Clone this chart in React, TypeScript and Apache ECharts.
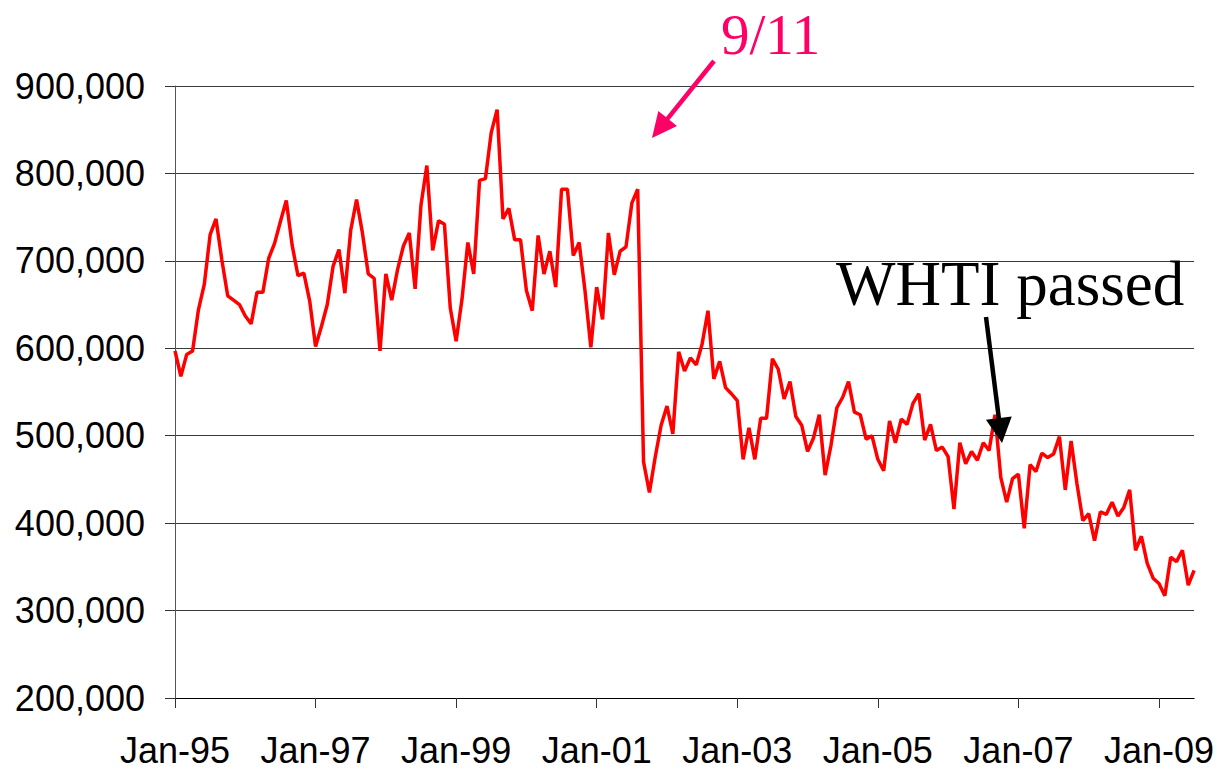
import React, { useEffect, useRef } from "react";
import * as echarts from "echarts";

// Monthly values (Jan 1995 – Jul 2009)
const v1995 = [597000, 568000, 593000, 597000, 644000, 673000, 730000, 748000, 701000, 660000, 655000, 650000];
const v1996 = [637000, 628000, 664000, 664000, 703000, 720000, 745000, 769000, 718000, 683000, 686000, 654000];
const v1997 = [602000, 625000, 650000, 694000, 713000, 663000, 735000, 770000, 732000, 685000, 680000, 597000];
const v1998 = [685000, 655000, 690000, 717000, 732000, 668000, 764000, 809000, 712000, 746000, 742000, 646000];
const v1999 = [608000, 656000, 721000, 685000, 792000, 794000, 847000, 873000, 748000, 760000, 724000, 724000];
const v2000 = [666000, 643000, 729000, 685000, 711000, 670000, 782000, 782000, 706000, 721000, 666000, 601000];
const v2001 = [670000, 633000, 732000, 684000, 711000, 716000, 766000, 782000, 470000, 435000, 476000, 512000];
const v2002 = [534000, 502000, 596000, 574000, 589000, 581000, 605000, 643000, 565000, 585000, 555000, 548000];
const v2003 = [540000, 473000, 509000, 473000, 520000, 520000, 588000, 576000, 542000, 562000, 522000, 512000];
const v2004 = [482000, 497000, 524000, 455000, 489000, 532000, 544000, 562000, 527000, 524000, 496000, 500000];
const v2005 = [473000, 460000, 517000, 492000, 519000, 513000, 537000, 548000, 495000, 513000, 483000, 487000];
const v2006 = [476000, 416000, 492000, 468000, 482000, 472000, 492000, 483000, 524000, 452000, 424000, 451000];
const v2007 = [456000, 394000, 467000, 459000, 480000, 475000, 479000, 499000, 438000, 494000, 445000, 403000];
const v2008 = [411000, 380000, 413000, 410000, 424000, 408000, 418000, 438000, 369000, 385000, 354000, 337000];
const v2009 = [331000, 317000, 361000, 356000, 369000, 329000, 346000];

const monthNames = ["Jan", "Feb", "Mar", "Apr", "May", "Jun", "Jul", "Aug", "Sep", "Oct", "Nov", "Dec"];
const years = ["95", "96", "97", "98", "99", "00", "01", "02", "03", "04", "05", "06", "07", "08", "09"];

const yMin = 200000;
const yMax = 900000;
const yStep = 100000;

const values = [
  ...v1995, ...v1996, ...v1997, ...v1998, ...v1999, ...v2000, ...v2001, ...v2002,
  ...v2003, ...v2004, ...v2005, ...v2006, ...v2007, ...v2008, ...v2009,
];

const categories: string[] = [];
for (const y of years) {
  for (const m of monthNames) {
    if (categories.length < values.length) categories.push(`${m}-${y}`);
  }
}

const annot911 = "9/11";
const annotWHTI = "WHTI passed";

function arrow(x1: number, y1: number, x2: number, y2: number, color: string, headLen: number, headHalf: number, width: number) {
  const dx = x2 - x1;
  const dy = y2 - y1;
  const len = Math.sqrt(dx * dx + dy * dy);
  const ux = dx / len;
  const uy = dy / len;
  const bx = x2 - ux * headLen;
  const by = y2 - uy * headLen;
  const px = -uy;
  const py = ux;
  return [
    {
      type: "line",
      shape: { x1, y1, x2: bx + ux * 2, y2: by + uy * 2 },
      style: { stroke: color, lineWidth: width },
      z: 100,
    },
    {
      type: "polygon",
      shape: {
        points: [
          [x2, y2],
          [bx + px * headHalf, by + py * headHalf],
          [bx - px * headHalf, by - py * headHalf],
        ],
      },
      style: { fill: color },
      z: 100,
    },
  ];
}

export default function App() {
  const ref = useRef<HTMLDivElement>(null);
  useEffect(() => {
    if (!ref.current) return;
    const chart = echarts.init(ref.current, null, { renderer: "svg" });
    chart.setOption({
      animation: false,
      backgroundColor: "#ffffff",
      grid: { left: 175, right: 22, top: 86, bottom: 73, containLabel: false },
      xAxis: {
        type: "category",
        data: categories,
        boundaryGap: false,
        axisLine: { show: true, lineStyle: { color: "#000", width: 1 } },
        axisTick: { show: true, interval: 23, length: 10, lineStyle: { color: "#333" } },
        axisLabel: {
          interval: 23,
          margin: 34,
          color: "#000",
          fontSize: 36,
          fontFamily: "Liberation Sans, Arial, sans-serif",
        },
        splitLine: { show: false },
      },
      yAxis: {
        type: "value",
        min: yMin,
        max: yMax,
        interval: yStep,
        axisLine: { show: true, lineStyle: { color: "#555", width: 1 } },
        axisTick: { show: true, length: 10, lineStyle: { color: "#333" } },
        axisLabel: {
          margin: 30,
          color: "#000",
          fontSize: 36,
          fontFamily: "Liberation Sans, Arial, sans-serif",
          formatter: (v: number) => v.toLocaleString("en-US"),
        },
        splitLine: { show: true, lineStyle: { color: "#3a3a3a", width: 1 } },
      },
      series: [
        {
          type: "line",
          data: values,
          showSymbol: false,
          symbol: "none",
          lineStyle: { color: "#ff0000", width: 3.5 },
          itemStyle: { color: "#ff0000" },
          z: 5,
        },
      ],
      graphic: [
        {
          type: "text",
          x: 721,
          y: 34,
          style: {
            text: annot911,
            font: "57px 'Liberation Serif', 'Times New Roman', serif",
            lineHeight: 44,
            fill: "#ff0066",
            align: "left",
            verticalAlign: "middle",
          },
          z: 100,
        },
        ...arrow(714, 61, 652, 138, "#ff0066", 25, 12, 4.5),
        {
          type: "text",
          x: 836,
          y: 284,
          style: {
            text: annotWHTI,
            font: "63px 'Liberation Serif', 'Times New Roman', serif",
            lineHeight: 60,
            fill: "#000",
            align: "left",
            verticalAlign: "middle",
          },
          z: 100,
        },
        ...arrow(986, 317, 1002, 443, "#000", 25, 13, 4.5),
      ],
    });
    return () => chart.dispose();
  }, []);
  return (
    <div
      ref={ref}
      style={{ position: "fixed", left: 0, top: 0, width: 1217, height: 771, background: "#fff" }}
    />
  );
}
